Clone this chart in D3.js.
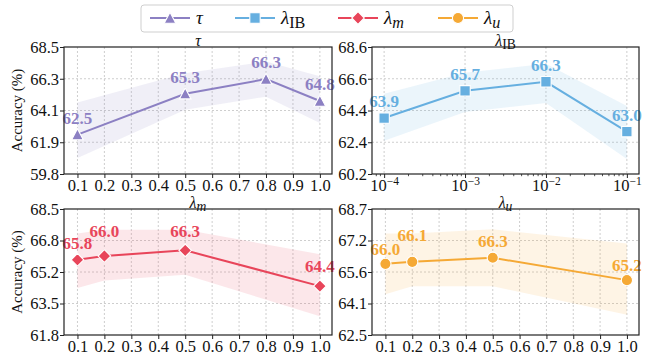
<!DOCTYPE html>
<html>
<head>
<meta charset="utf-8">
<script src="https://cdn.jsdelivr.net/npm/d3@7"></script>
<style>
  body { margin: 0; background: #fff; }
  svg { font-family: "Liberation Serif", "DejaVu Serif", serif; }
</style>
</head>
<body>
<div id="chart"></div>
<script>
// ---- data ----
const tauX = [0.1, 0.5, 0.8, 1.0];
const tauAcc = [62.5, 65.3, 66.3, 64.8];
const tauHi = [64.7, 66.7, 67.5, 66.5];
const tauLo = [60.9, 64.2, 65.1, 63.3];
const tauTicks = ['59.8', '61.9', '64.1', '66.3', '68.5'];

const ibX = [1e-4, 1e-3, 1e-2, 1e-1];
const ibAcc = [63.9, 65.7, 66.3, 63.0];
const ibHi = [65.5, 66.9, 67.5, 64.7];
const ibLo = [62.4, 64.3, 64.9, 61.2];
const ibTicks = ['60.2', '62.4', '64.4', '66.6', '68.6'];

const mX = [0.1, 0.2, 0.5, 1.0];
const mAcc = [65.8, 66.0, 66.3, 64.4];
const mHi = [67.2, 67.4, 67.4, 66.1];
const mLo = [64.3, 64.7, 65.0, 62.8];
const mTicks = ['61.8', '63.5', '65.2', '66.8', '68.5'];

const uX = [0.1, 0.2, 0.5, 1.0];
const uAcc = [66.0, 66.1, 66.3, 65.2];
const uHi = [67.5, 67.5, 67.7, 67.0];
const uLo = [64.5, 64.9, 64.9, 63.5];
const uTicks = ['62.5', '64.1', '65.6', '67.2', '68.7'];

// extra lift (px) for value labels that would collide
const tauLift = [0, 0, 0, 0];
const ibLift = [0, 0, 0, 0];
const mLift = [0, 8, 2, 3];
const uLift = [-2, 10, 0, -2];

const w = 652;
const h = 360;

const svg = d3.select('#chart')
  .append('svg')
  .attr('width', w)
  .attr('height', h);

const panels = [
  { name: ['τ', null], x: tauX, acc: tauAcc, hi: tauHi, lo: tauLo, ticks: tauTicks, lift: tauLift,
    color: '#8c80c3', marker: 'triangle', box: [64, 47, 332, 174], log: false, ylabel: true },
  { name: ['λ', 'IB'], x: ibX, acc: ibAcc, hi: ibHi, lo: ibLo, ticks: ibTicks, lift: ibLift,
    color: '#66afe0', marker: 'square', box: [372, 47, 639, 174], log: true, ylabel: false },
  { name: ['λ', 'm'], x: mX, acc: mAcc, hi: mHi, lo: mLo, ticks: mTicks, lift: mLift,
    color: '#e8455a', marker: 'diamond', box: [64, 209, 332, 335], log: false, ylabel: true },
  { name: ['λ', 'u'], x: uX, acc: uAcc, hi: uHi, lo: uLo, ticks: uTicks, lift: uLift,
    color: '#f5a935', marker: 'circle', box: [372, 209, 639, 335], log: false, ylabel: false }
];

function markerPath(type) {
  if (type === 'triangle') return 'M0,-5.8L5.8,5.2L-5.8,5.2Z';
  if (type === 'square') return 'M-5.2,-5.2H5.2V5.2H-5.2Z';
  if (type === 'diamond') return 'M0,-6.3L6.3,0L0,6.3L-6.3,0Z';
  return d3.symbol(d3.symbolCircle, Math.PI * 5.6 * 5.6)();
}

// symbol + subscript, mathtext style
function mathLabel(sel, name, size) {
  sel.append('tspan')
    .attr('font-style', 'italic')
    .text(name[0]);
  if (name[1]) {
    sel.append('tspan')
      .attr('font-style', name[1] === 'IB' ? 'normal' : 'italic')
      .attr('font-size', size * 0.85)
      .attr('dy', size * 0.22)
      .text(name[1]);
  }
}

function drawPanel(p) {
  const [x0, y0, x1, y1] = p.box;
  const x = p.log
    ? d3.scaleLog().domain([Math.pow(10, -4.15), Math.pow(10, -0.85)]).range([x0, x1])
    : d3.scaleLinear().domain([0.05, 1.045]).range([x0, x1]);
  const yMin = +p.ticks[0];
  const yMax = +p.ticks[p.ticks.length - 1];
  const y = d3.scaleLinear().domain([yMin, yMax]).range([y1, y0]);
  const yVals = p.ticks.map((t, i) => yMin + i * (yMax - yMin) / (p.ticks.length - 1));
  const xVals = p.log ? [1e-4, 1e-3, 1e-2, 1e-1] : d3.range(1, 11).map((i) => i / 10);

  const g = svg.append('g');

  // grid
  g.append('g').selectAll('line')
    .data(xVals)
    .join('line')
    .attr('x1', (d) => x(d)).attr('x2', (d) => x(d))
    .attr('y1', y0).attr('y2', y1)
    .attr('stroke', '#c2c2c2').attr('stroke-width', 0.8).attr('stroke-dasharray', '2,2');
  g.append('g').selectAll('line')
    .data(yVals.slice(1, -1))
    .join('line')
    .attr('x1', x0).attr('x2', x1)
    .attr('y1', (d) => y(d)).attr('y2', (d) => y(d))
    .attr('stroke', '#c2c2c2').attr('stroke-width', 0.8).attr('stroke-dasharray', '2,2');

  const rows = p.x.map((d, i) => ({ x: d, acc: p.acc[i], hi: p.hi[i], lo: p.lo[i], lift: p.lift[i] }));

  // shaded band
  g.append('path')
    .datum(rows)
    .attr('d', d3.area().x((d) => x(d.x)).y0((d) => y(d.lo)).y1((d) => y(d.hi)))
    .attr('fill', p.color)
    .attr('fill-opacity', 0.13);

  g.append('path')
    .datum(rows)
    .attr('d', d3.line().x((d) => x(d.x)).y((d) => y(d.acc)))
    .attr('fill', 'none')
    .attr('stroke', p.color)
    .attr('stroke-width', 2);

  g.selectAll('.mk')
    .data(rows)
    .join('path')
    .attr('class', 'mk')
    .attr('transform', (d) => `translate(${x(d.x)},${y(d.acc)})`)
    .attr('d', markerPath(p.marker))
    .attr('fill', p.color)
    .attr('stroke', '#fff')
    .attr('stroke-width', 1.1);

  g.selectAll('.val')
    .data(rows)
    .join('text')
    .attr('class', 'val')
    .attr('x', (d) => x(d.x))
    .attr('y', (d) => y(d.acc) - 11 - d.lift)
    .attr('text-anchor', 'middle')
    .attr('font-size', 17)
    .attr('font-weight', 'bold')
    .attr('fill', p.color)
    .text((d) => d.acc.toFixed(1));

  // axes
  const xAxis = d3.axisBottom(x)
    .tickValues(xVals)
    .tickSize(4)
    .tickPadding(1.5)
    .tickFormat(p.log ? () => '' : d3.format('.1f'));
  const xg = g.append('g')
    .attr('transform', `translate(0, ${y1})`)
    .call(xAxis);
  if (p.log) {
    xg.selectAll('.tick text').each(function (d) {
      const t = d3.select(this);
      t.append('tspan').text('10');
      t.append('tspan')
        .attr('font-size', 11.5)
        .attr('dy', '-0.55em')
        .text('\u2212' + Math.round(-Math.log10(d)));
    });
    const minors = [];
    for (let k = -5; k <= -1; k++) {
      for (let m = 2; m <= 9; m++) {
        const v = m * Math.pow(10, k);
        if (v > x.domain()[0] && v < x.domain()[1]) minors.push(v);
      }
    }
    g.append('g').selectAll('line')
      .data(minors)
      .join('line')
      .attr('x1', (d) => x(d)).attr('x2', (d) => x(d))
      .attr('y1', y1).attr('y2', y1 + 2.2)
      .attr('stroke', '#222').attr('stroke-width', 0.8);
  }
  const yAxis = d3.axisLeft(y)
    .tickValues(yVals)
    .tickSize(4)
    .tickPadding(1)
    .tickFormat((d, i) => p.ticks[i]);
  const yg = g.append('g')
    .attr('transform', `translate(${x0}, 0)`)
    .call(yAxis);

  [xg, yg].forEach((a) => {
    a.select('.domain').remove();
    a.selectAll('.tick line').attr('stroke', '#222').attr('stroke-width', 1);
    a.selectAll('.tick text')
      .attr('fill', '#111')
      .attr('font-size', 16.5)
      .attr('font-family', '"Liberation Serif", serif');
  });

  // frame
  g.append('rect')
    .attr('x', x0).attr('y', y0)
    .attr('width', x1 - x0).attr('height', y1 - y0)
    .attr('fill', 'none')
    .attr('stroke', '#222')
    .attr('stroke-width', 1.2);

  // title
  const title = g.append('text')
    .attr('x', (x0 + x1) / 2)
    .attr('y', y0 - 1.5)
    .attr('text-anchor', 'middle')
    .attr('font-size', 16)
    .attr('fill', '#111');
  mathLabel(title, p.name, 16);

  if (p.ylabel) {
    g.append('text')
      .attr('transform', `translate(22, ${(y0 + y1) / 2}) rotate(-90)`)
      .attr('text-anchor', 'middle')
      .attr('font-size', 15)
      .attr('fill', '#111')
      .text('Accuracy (%)');
  }
}

panels.forEach(drawPanel);

// legend
const legend = svg.append('g');
legend.append('rect')
  .attr('x', 141).attr('y', 5)
  .attr('width', 372).attr('height', 27)
  .attr('rx', 3)
  .attr('fill', '#fff')
  .attr('stroke', '#cfcfcf')
  .attr('stroke-width', 1);

const legendX = [150, 235, 338, 438];
panels.forEach((p, i) => {
  const lg = legend.append('g').attr('transform', `translate(${legendX[i]}, 18)`);
  lg.append('line')
    .attr('x1', 0).attr('x2', 40)
    .attr('stroke', p.color)
    .attr('stroke-width', 2);
  lg.append('path')
    .attr('transform', 'translate(20,0)')
    .attr('d', markerPath(p.marker))
    .attr('fill', p.color)
    .attr('stroke', '#fff')
    .attr('stroke-width', 1.1);
  const t = lg.append('text')
    .attr('x', 46)
    .attr('y', 6)
    .attr('font-size', 19)
    .attr('fill', '#111');
  mathLabel(t, p.name, 19);
});
</script>
</body>
</html>
